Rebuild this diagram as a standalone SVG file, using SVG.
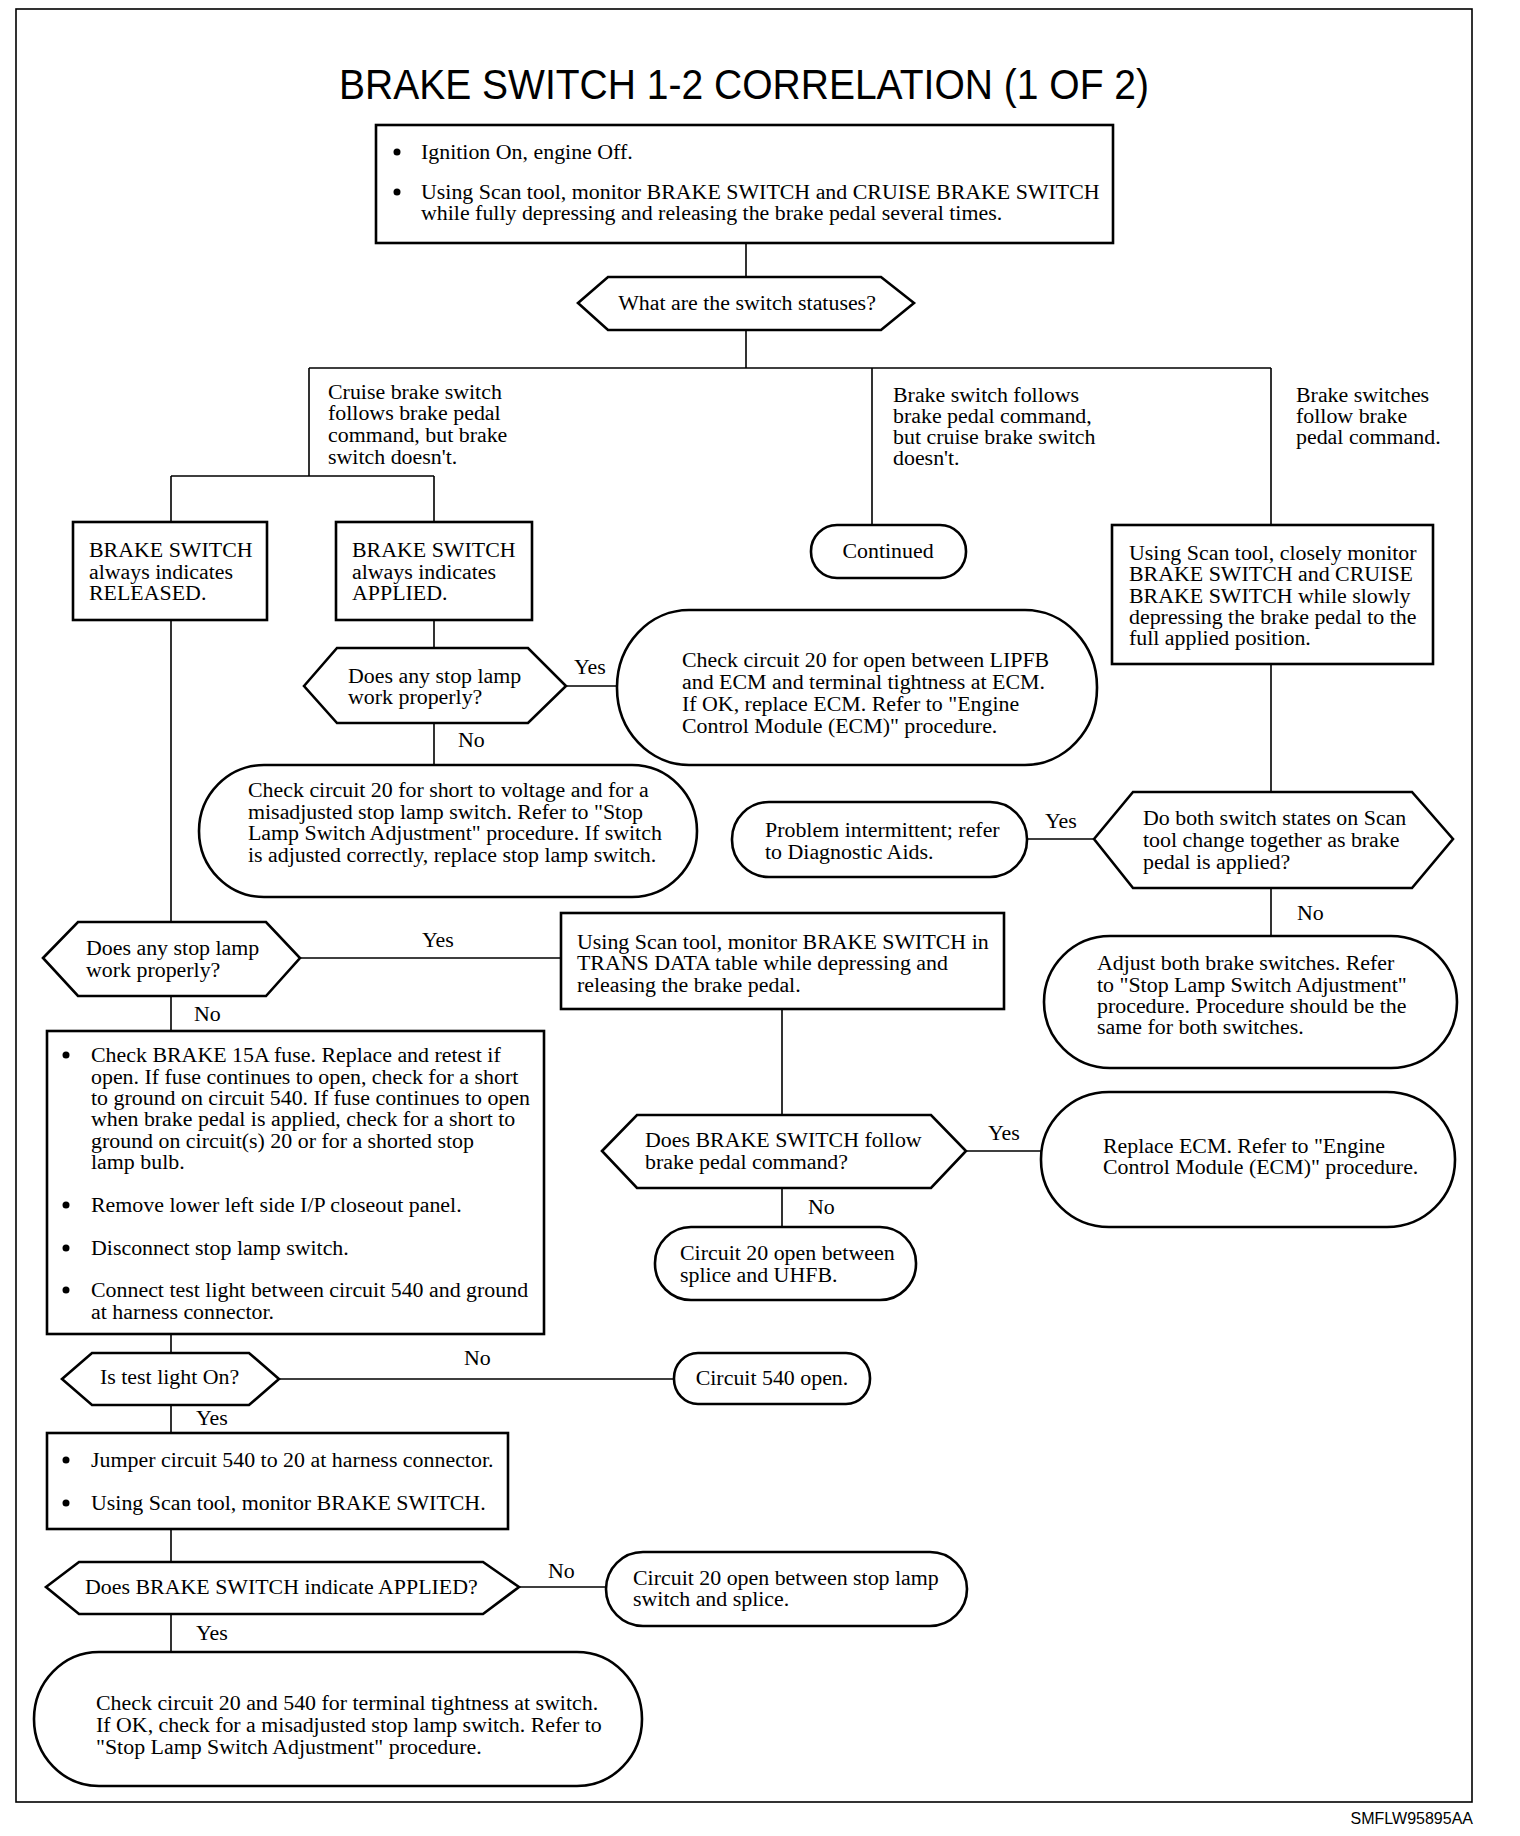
<svg xmlns="http://www.w3.org/2000/svg" width="1520" height="1836" viewBox="0 0 1520 1836">
<style>
.t{font-family:"Liberation Serif","Times New Roman",serif;font-size:21.9px;fill:#000}
.m{text-anchor:middle}
.b{fill:#fff;stroke:#000;stroke-width:2.6}
.c{fill:none;stroke:#000;stroke-width:1.6}
.d{fill:#000}
</style>
<rect x="0" y="0" width="1520" height="1836" fill="#fff"/>
<rect x="16" y="9" width="1456" height="1793" fill="none" stroke="#000" stroke-width="1.6"/>
<text x="339" y="99" font-family="'Liberation Sans',Arial,sans-serif" font-size="42" textLength="810" lengthAdjust="spacingAndGlyphs">BRAKE SWITCH 1-2 CORRELATION (1 OF 2)</text>
<text x="1473" y="1824" font-family="'Liberation Sans',Arial,sans-serif" font-size="16" text-anchor="end">SMFLW95895AA</text>

<g id="connectors">
<path class="c" d="M746,243V277M746,330V368M309,368H1271M309,368V476M171,476H434M171,476V522M434,476V522M872,368V525M1271,368V525"/>
<path class="c" d="M171,620V922M434,620V648M566,686H617M434,723V765"/>
<path class="c" d="M1271,664V792M1027,839H1094M1271,888V936"/>
<path class="c" d="M300,958H561M782,1009V1115M966,1151H1041M782,1188V1227"/>
<path class="c" d="M171,996V1031M171,1334V1353M279,1379H674M171,1405V1433M171,1529V1562M519,1587H606M171,1614V1652"/>
</g>

<g id="start">
<rect class="b" x="376" y="125" width="737" height="118"/>
<circle class="d" cx="397" cy="152" r="3.5"/><circle class="d" cx="397" cy="192" r="3.5"/>
<text class="t"><tspan x="421" y="159">Ignition On, engine Off.</tspan><tspan x="421" y="199">Using Scan tool, monitor BRAKE SWITCH and CRUISE BRAKE SWITCH</tspan><tspan x="421" y="220">while fully depressing and releasing the brake pedal several times.</tspan></text>
</g>

<g id="q-statuses">
<polygon class="b" points="578,303 608,277 881,277 914,303 881,330 608,330"/>
<text class="t m" x="747" y="310">What are the switch statuses?</text>
</g>

<g id="branch-labels">
<text class="t"><tspan x="328" y="399">Cruise brake switch</tspan><tspan x="328" y="420">follows brake pedal</tspan><tspan x="328" y="442">command, but brake</tspan><tspan x="328" y="464">switch doesn't.</tspan></text>
<text class="t"><tspan x="893" y="402">Brake switch follows</tspan><tspan x="893" y="423">brake pedal command,</tspan><tspan x="893" y="444">but cruise brake switch</tspan><tspan x="893" y="465">doesn't.</tspan></text>
<text class="t"><tspan x="1296" y="402">Brake switches</tspan><tspan x="1296" y="423">follow brake</tspan><tspan x="1296" y="444">pedal command.</tspan></text>
</g>

<g id="released">
<rect class="b" x="73" y="522" width="194" height="98"/>
<text class="t"><tspan x="89" y="557">BRAKE SWITCH</tspan><tspan x="89" y="579">always indicates</tspan><tspan x="89" y="600">RELEASED.</tspan></text>
</g>

<g id="applied">
<rect class="b" x="336" y="522" width="196" height="98"/>
<text class="t"><tspan x="352" y="557">BRAKE SWITCH</tspan><tspan x="352" y="579">always indicates</tspan><tspan x="352" y="600">APPLIED.</tspan></text>
</g>

<g id="q-stoplamp-1">
<polygon class="b" points="304,686 337,648 528,648 566,686 528,723 337,723"/>
<text class="t"><tspan x="348" y="683">Does any stop lamp</tspan><tspan x="348" y="704">work properly?</tspan></text>
<text class="t" x="574" y="674">Yes</text>
<text class="t" x="458" y="747">No</text>
</g>

<g id="check-lipfb">
<rect class="b" x="617" y="610" width="480" height="155" rx="72" ry="77"/>
<text class="t"><tspan x="682" y="667">Check circuit 20 for open between LIPFB</tspan><tspan x="682" y="689">and ECM and terminal tightness at ECM.</tspan><tspan x="682" y="711">If OK, replace ECM. Refer to "Engine</tspan><tspan x="682" y="733">Control Module (ECM)" procedure.</tspan></text>
</g>

<g id="check-short">
<rect class="b" x="199" y="765" width="498" height="132" rx="65" ry="66"/>
<text class="t"><tspan x="248" y="797">Check circuit 20 for short to voltage and for a</tspan><tspan x="248" y="819">misadjusted stop lamp switch. Refer to "Stop</tspan><tspan x="248" y="840">Lamp Switch Adjustment" procedure. If switch</tspan><tspan x="248" y="862">is adjusted correctly, replace stop lamp switch.</tspan></text>
</g>

<g id="continued">
<rect class="b" x="811" y="525" width="155" height="53" rx="26" ry="26"/>
<text class="t m" x="888" y="558">Continued</text>
</g>

<g id="monitor-slowly">
<rect class="b" x="1112" y="525" width="321" height="139"/>
<text class="t"><tspan x="1129" y="560">Using Scan tool, closely monitor</tspan><tspan x="1129" y="581">BRAKE SWITCH and CRUISE</tspan><tspan x="1129" y="603">BRAKE SWITCH while slowly</tspan><tspan x="1129" y="624">depressing the brake pedal to the</tspan><tspan x="1129" y="645">full applied position.</tspan></text>
</g>

<g id="q-together">
<polygon class="b" points="1094,839 1133,792 1412,792 1453,839 1412,888 1133,888"/>
<text class="t"><tspan x="1143" y="825">Do both switch states on Scan</tspan><tspan x="1143" y="847">tool change together as brake</tspan><tspan x="1143" y="869">pedal is applied?</tspan></text>
<text class="t" x="1045" y="828">Yes</text>
<text class="t" x="1297" y="920">No</text>
</g>

<g id="intermittent">
<rect class="b" x="732" y="802" width="295" height="75" rx="37" ry="37"/>
<text class="t"><tspan x="765" y="837">Problem intermittent; refer</tspan><tspan x="765" y="859">to Diagnostic Aids.</tspan></text>
</g>

<g id="adjust">
<rect class="b" x="1044" y="936" width="413" height="132" rx="66" ry="66"/>
<text class="t"><tspan x="1097" y="970">Adjust both brake switches. Refer</tspan><tspan x="1097" y="992">to "Stop Lamp Switch Adjustment"</tspan><tspan x="1097" y="1013">procedure. Procedure should be the</tspan><tspan x="1097" y="1034">same for both switches.</tspan></text>
</g>

<g id="q-stoplamp-2">
<polygon class="b" points="43,958 78,922 266,922 300,958 266,996 78,996"/>
<text class="t"><tspan x="86" y="955">Does any stop lamp</tspan><tspan x="86" y="977">work properly?</tspan></text>
<text class="t" x="422" y="947">Yes</text>
<text class="t" x="194" y="1021">No</text>
</g>

<g id="trans-data">
<rect class="b" x="561" y="913" width="443" height="96"/>
<text class="t"><tspan x="577" y="949">Using Scan tool, monitor BRAKE SWITCH in</tspan><tspan x="577" y="970">TRANS DATA table while depressing and</tspan><tspan x="577" y="992">releasing the brake pedal.</tspan></text>
</g>

<g id="q-follow">
<polygon class="b" points="602,1151 637,1115 931,1115 966,1151 931,1188 637,1188"/>
<text class="t"><tspan x="645" y="1147">Does BRAKE SWITCH follow</tspan><tspan x="645" y="1169">brake pedal command?</tspan></text>
<text class="t" x="988" y="1140">Yes</text>
<text class="t" x="808" y="1214">No</text>
</g>

<g id="replace-ecm">
<rect class="b" x="1041" y="1092" width="414" height="135" rx="68" ry="67"/>
<text class="t"><tspan x="1103" y="1153">Replace ECM. Refer to "Engine</tspan><tspan x="1103" y="1174">Control Module (ECM)" procedure.</tspan></text>
</g>

<g id="open-uhfb">
<rect class="b" x="655" y="1227" width="261" height="73" rx="36" ry="36"/>
<text class="t"><tspan x="680" y="1260">Circuit 20 open between</tspan><tspan x="680" y="1282">splice and UHFB.</tspan></text>
</g>

<g id="fuse-check">
<rect class="b" x="47" y="1031" width="497" height="303"/>
<circle class="d" cx="66" cy="1055" r="3.5"/><circle class="d" cx="66" cy="1205" r="3.5"/><circle class="d" cx="66" cy="1248" r="3.5"/><circle class="d" cx="66" cy="1290" r="3.5"/>
<text class="t"><tspan x="91" y="1062">Check BRAKE 15A fuse. Replace and retest if</tspan><tspan x="91" y="1084">open. If fuse continues to open, check for a short</tspan><tspan x="91" y="1105">to ground on circuit 540. If fuse continues to open</tspan><tspan x="91" y="1126">when brake pedal is applied, check for a short to</tspan><tspan x="91" y="1148">ground on circuit(s) 20 or for a shorted stop</tspan><tspan x="91" y="1169">lamp bulb.</tspan><tspan x="91" y="1212">Remove lower left side I/P closeout panel.</tspan><tspan x="91" y="1255">Disconnect stop lamp switch.</tspan><tspan x="91" y="1297">Connect test light between circuit 540 and ground</tspan><tspan x="91" y="1319">at harness connector.</tspan></text>
</g>

<g id="q-testlight">
<polygon class="b" points="62,1379 92,1353 249,1353 279,1379 249,1405 92,1405"/>
<text class="t" x="100" y="1384">Is test light On?</text>
<text class="t" x="464" y="1365">No</text>
<text class="t" x="196" y="1425">Yes</text>
</g>

<g id="open-540">
<rect class="b" x="674" y="1353" width="196" height="51" rx="24" ry="25"/>
<text class="t m" x="772" y="1385">Circuit 540 open.</text>
</g>

<g id="jumper">
<rect class="b" x="47" y="1433" width="461" height="96"/>
<circle class="d" cx="66" cy="1460" r="3.5"/><circle class="d" cx="66" cy="1503" r="3.5"/>
<text class="t"><tspan x="91" y="1467">Jumper circuit 540 to 20 at harness connector.</tspan><tspan x="91" y="1510">Using Scan tool, monitor BRAKE SWITCH.</tspan></text>
</g>

<g id="q-applied">
<polygon class="b" points="46,1587 79,1562 483,1562 519,1587 483,1614 79,1614"/>
<text class="t" x="85" y="1594">Does BRAKE SWITCH indicate APPLIED?</text>
<text class="t" x="548" y="1578">No</text>
<text class="t" x="196" y="1640">Yes</text>
</g>

<g id="open-stoplamp">
<rect class="b" x="606" y="1552" width="361" height="74" rx="37" ry="37"/>
<text class="t"><tspan x="633" y="1585">Circuit 20 open between stop lamp</tspan><tspan x="633" y="1606">switch and splice.</tspan></text>
</g>

<g id="check-tightness">
<rect class="b" x="34" y="1652" width="608" height="134" rx="65" ry="67"/>
<text class="t"><tspan x="96" y="1710">Check circuit 20 and 540 for terminal tightness at switch.</tspan><tspan x="96" y="1732">If OK, check for a misadjusted stop lamp switch. Refer to</tspan><tspan x="96" y="1754">"Stop Lamp Switch Adjustment" procedure.</tspan></text>
</g>
</svg>
